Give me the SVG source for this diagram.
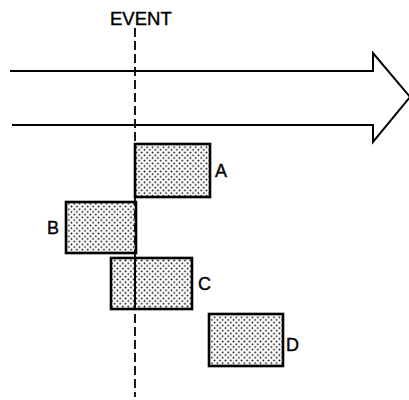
<svg xmlns="http://www.w3.org/2000/svg" width="409" height="400" viewBox="0 0 409 400">
<defs>
<pattern id="dots" width="5.4" height="5.4" patternUnits="userSpaceOnUse">
<rect width="5.4" height="5.4" fill="#fff"/>
<circle cx="1.35" cy="1.35" r="0.9" fill="#000"/>
<circle cx="4.05" cy="4.05" r="0.9" fill="#000"/>
</pattern>
</defs>
<style>
.box{fill:url(#dots);stroke:#000;stroke-width:2.6}
.lbl{font-family:"Liberation Sans",Arial,sans-serif;font-size:18px;fill:#000;stroke:#000;stroke-width:0.4}
.ln{fill:none;stroke:#000;stroke-width:2}
</style>
<rect width="409" height="400" fill="#fff"/>
<g id="arrow">
<polyline class="ln" points="10,71 373,71 373,53 410,97 373,142 373,125 12,125" stroke-linejoin="miter"/>
</g>
<g id="A">
<rect class="box" x="135" y="144" width="75" height="53"/>
<text class="lbl" x="215" y="177">A</text>
</g>
<g id="B">
<rect class="box" x="66" y="202" width="70" height="51"/>
<text class="lbl" x="47" y="234">B</text>
</g>
<g id="C">
<rect class="box" x="111" y="258" width="81" height="51"/>
<text class="lbl" x="198" y="290">C</text>
</g>
<g id="D">
<rect class="box" x="209" y="314" width="74" height="52"/>
<text class="lbl" x="286" y="351">D</text>
</g>
<g id="connectors">
<line x1="135" y1="28" x2="135" y2="397" stroke="#000" stroke-width="1.8" stroke-dasharray="9,4"/>
<line x1="135" y1="258" x2="135" y2="309" stroke="#000" stroke-width="2"/>
</g>
<g id="event">
<text class="lbl" x="110" y="25" style="font-size:18.5px">EVENT</text>
</g>
</svg>
